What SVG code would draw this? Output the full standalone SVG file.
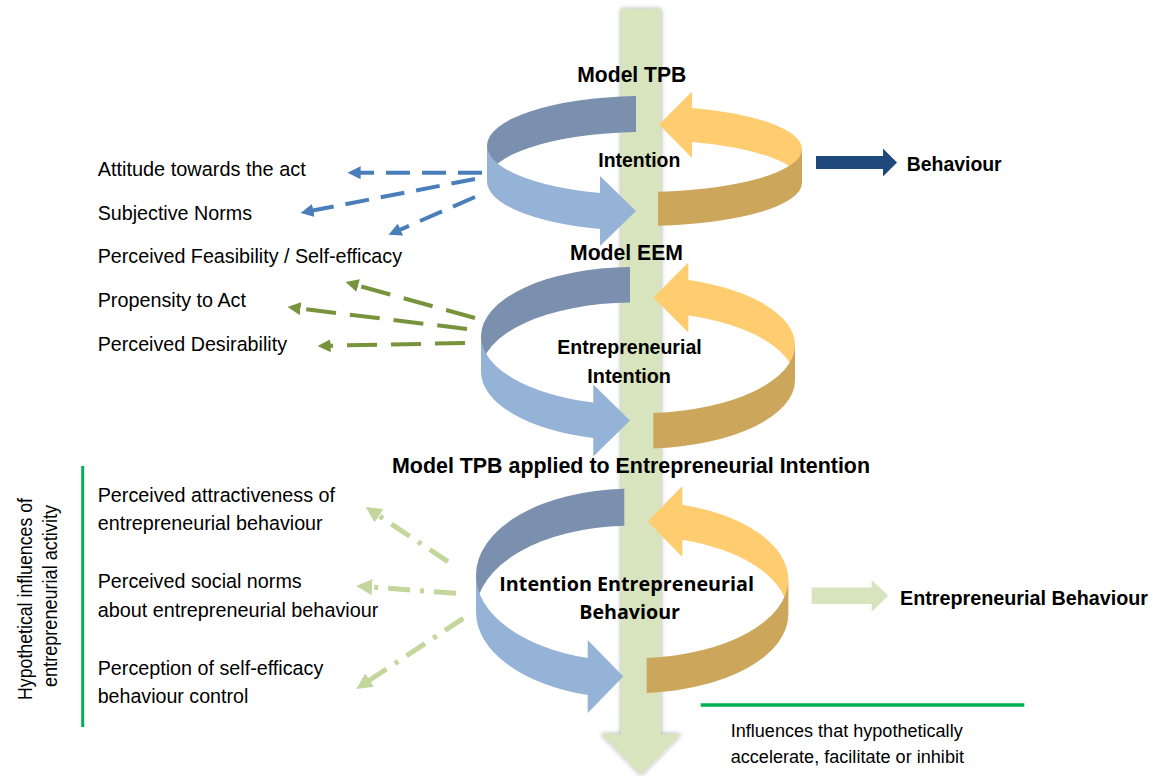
<svg xmlns="http://www.w3.org/2000/svg" width="1161" height="776" viewBox="0 0 1161 776">
<style>
.t{font-family:"Liberation Sans",Arial,sans-serif;fill:#000;}
.lt{font-size:20.5px;}
.b{font-weight:bold;}
.cal{font-family:"Open Sans","Liberation Sans",sans-serif;font-weight:bold;font-size:20px;fill:#000;}
.dk{fill:#7b8fae;}
.lb{fill:#95b3d7;}
.yl{fill:#ffcd6f;}
.gd{fill:#cca75b;}
.blue{stroke:#4a7ebb;stroke-width:4;fill:none;stroke-dasharray:24 12;}
.green{stroke:#77933c;stroke-width:4;fill:none;stroke-dasharray:30 14;}
.lgreen{stroke:#c3d69b;stroke-width:5;fill:none;stroke-dasharray:22 10 4 10;}
</style>
<defs>
<marker id="ahB" viewBox="0 0 10 10" refX="4" refY="5" markerWidth="13" markerHeight="13" markerUnits="userSpaceOnUse" orient="auto"><path d="M0,0 L10,5 L0,10 Z" fill="#4a7ebb"/></marker>
<marker id="ahG" viewBox="0 0 10 10" refX="4" refY="5" markerWidth="13" markerHeight="13" markerUnits="userSpaceOnUse" orient="auto"><path d="M0,0 L10,5 L0,10 Z" fill="#77933c"/></marker>
<marker id="ahL" viewBox="0 0 10 10" refX="4" refY="5" markerWidth="16" markerHeight="16" markerUnits="userSpaceOnUse" orient="auto"><path d="M0,0 L10,5 L0,10 Z" fill="#c3d69b"/></marker>
<filter id="sh" x="-30%" y="-5%" width="160%" height="110%"><feDropShadow dx="0" dy="0" stdDeviation="2.5" flood-color="#000" flood-opacity="0.35"/></filter>
</defs>

<g id="axis">
<path d="M621,9 H661 V734 H681 L641,775 L601,734 H621 Z" fill="#d7e4bd" filter="url(#sh)"/>
</g>

<g id="ring-tpb">
<path class="dk" d="M636,96.06 A157,49.5 0 0 0 487,145.5 L487,181.5 A157,49.5 0 0 1 636,132.06 Z"/>
<path class="lb" d="M487,145.5 A157,49.5 0 0 0 600,193 L600,176 L636,211 L600,246 L600,229 A157,49.5 0 0 1 487,181.5 Z"/>
<path class="yl" d="M692,108 A158,43 0 0 1 802,149 L802,183 A158,43 0 0 0 692,142 L692,158 L659,124.5 L692,91.5 Z"/>
<path class="gd" d="M658,191.8 A158,43 0 0 0 802,149 L802,183 A158,43 0 0 1 658,225.8 Z"/>
</g>

<g id="ring-eem">
<path class="dk" d="M630,267 A152,69 0 0 0 481,336 L481,371.5 A152,69 0 0 1 630,302.5 Z"/>
<path class="lb" d="M481,336 A152,69 0 0 0 593.3,402.6 L593.3,384.5 L630,420.5 L593.3,456.5 L593.3,438.1 A152,69 0 0 1 481,371.5 Z"/>
<path class="yl" d="M688.3,280.1 A155,68.3 0 0 1 795,345 L795,380.5 A155,68.3 0 0 0 688.3,315.6 L688.3,332.5 L653.3,297.5 L688.3,262.5 Z"/>
<path class="gd" d="M653.3,413.05 A155,68.3 0 0 0 795,345 L795,380.5 A155,68.3 0 0 1 653.3,448.55 Z"/>
</g>

<g id="ring-tpb-ei">
<path class="dk" d="M624.3,488.76 A154,86.3 0 0 0 476,575 L476,612 A154,86.3 0 0 1 624.3,525.76 Z"/>
<path class="lb" d="M476,575 A154,86.3 0 0 0 587.7,658 L587.7,640 L623.3,676.5 L587.7,713 L587.7,695 A154,86.3 0 0 1 476,612 Z"/>
<path class="yl" d="M682.3,504.64 A153.3,78.7 0 0 1 788.3,579.5 L788.3,614.5 A153.3,78.7 0 0 0 682.3,539.64 L682.3,557 L647.7,521.5 L682.3,486 Z"/>
<path class="gd" d="M646.7,657.97 A153.3,78.7 0 0 0 788.3,579.5 L788.3,614.5 A153.3,78.7 0 0 1 646.7,692.97 Z"/>
</g>

<g id="titles">
<text class="t b" x="577.3" y="81.7" font-size="22" textLength="109" lengthAdjust="spacingAndGlyphs">Model TPB</text>
<text class="t b" x="598.3" y="166.7" font-size="20" textLength="82" lengthAdjust="spacingAndGlyphs">Intention</text>
<text class="t b" x="570" y="260" font-size="22" textLength="113" lengthAdjust="spacingAndGlyphs">Model EEM</text>
<text class="t b" x="557.3" y="354.3" font-size="20" textLength="144.4" lengthAdjust="spacingAndGlyphs">Entrepreneurial</text>
<text class="t b" x="587.3" y="382.7" font-size="20" textLength="83.7" lengthAdjust="spacingAndGlyphs">Intention</text>
<text class="t b" x="392" y="473" font-size="22" textLength="478" lengthAdjust="spacingAndGlyphs">Model TPB applied to Entrepreneurial Intention</text>
<text class="cal" x="499.3" y="590.7" textLength="254.7" lengthAdjust="spacingAndGlyphs">Intention Entrepreneurial</text>
<text class="cal" x="579.3" y="619.3" textLength="100.7" lengthAdjust="spacingAndGlyphs">Behaviour</text>
</g>

<g id="behaviour">
<path d="M816,156 H883 V148.5 L897,162.5 L883,176.5 V169 H816 Z" fill="#1f497d"/>
<text class="t b" x="906.7" y="170.7" font-size="20" textLength="95" lengthAdjust="spacingAndGlyphs">Behaviour</text>
</g>

<g id="entrepreneurial-behaviour">
<path d="M811.7,587.5 H871.7 V580 L888.3,595.8 L871.7,611.7 V604 H811.7 Z" fill="#d7e4bd"/>
<text class="t b" x="900" y="605" font-size="19.6" textLength="248" lengthAdjust="spacingAndGlyphs">Entrepreneurial Behaviour</text>
</g>

<g id="influences-tpb">
<text class="t lt" x="97.7" y="176" textLength="208" lengthAdjust="spacingAndGlyphs">Attitude towards the act</text>
<text class="t lt" x="97.7" y="219.7" textLength="154.3" lengthAdjust="spacingAndGlyphs">Subjective Norms</text>
<text class="t lt" x="97.7" y="263.4" textLength="304.3" lengthAdjust="spacingAndGlyphs">Perceived Feasibility / Self-efficacy</text>
</g>

<g id="influences-eem">
<text class="t lt" x="97.7" y="307.1" textLength="148.3" lengthAdjust="spacingAndGlyphs">Propensity to Act</text>
<text class="t lt" x="97.7" y="350.8" textLength="189.3" lengthAdjust="spacingAndGlyphs">Perceived Desirability</text>
</g>

<g id="influences-ei">
<text class="t lt" x="97.7" y="501.7" textLength="237.3" lengthAdjust="spacingAndGlyphs">Perceived attractiveness of</text>
<text class="t lt" x="97.7" y="530" textLength="225" lengthAdjust="spacingAndGlyphs">entrepreneurial behaviour</text>
<text class="t lt" x="97.7" y="588.3" textLength="204" lengthAdjust="spacingAndGlyphs">Perceived social norms</text>
<text class="t lt" x="97.7" y="616.7" textLength="280.6" lengthAdjust="spacingAndGlyphs">about entrepreneurial behaviour</text>
<text class="t lt" x="97.7" y="675" textLength="225.6" lengthAdjust="spacingAndGlyphs">Perception of self-efficacy</text>
<text class="t lt" x="97.7" y="703.3" textLength="150.6" lengthAdjust="spacingAndGlyphs">behaviour control</text>
</g>

<g id="hypothetical-label">
<line x1="82.7" y1="466" x2="82.7" y2="727" stroke="#00b050" stroke-width="3"/>
<text class="t" font-size="20" text-anchor="middle" transform="translate(31.7,599) rotate(-90)" textLength="202" lengthAdjust="spacingAndGlyphs">Hypothetical influences of</text>
<text class="t" font-size="20" text-anchor="middle" transform="translate(56.7,596) rotate(-90)" textLength="182" lengthAdjust="spacingAndGlyphs">entrepreneurial activity</text>
</g>

<g id="accelerate-label">
<line x1="700.7" y1="705" x2="1024.3" y2="705" stroke="#00b050" stroke-width="3.5"/>
<text class="t" font-size="17.5" x="730.7" y="736.7" textLength="232" lengthAdjust="spacingAndGlyphs">Influences that hypothetically</text>
<text class="t" font-size="17.5" x="730.7" y="762.7" textLength="233.3" lengthAdjust="spacingAndGlyphs">accelerate, facilitate or inhibit</text>
</g>

<g id="connectors">
<line class="blue" x1="482" y1="172.7" x2="355.4" y2="172.7" marker-end="url(#ahB)"/>
<line class="blue" x1="475" y1="179" x2="308.2" y2="211.4" marker-end="url(#ahB)"/>
<line class="blue" x1="475" y1="197" x2="395.7" y2="231.6" marker-end="url(#ahB)"/>
<line class="green" x1="475" y1="318" x2="353.1" y2="284.2" marker-end="url(#ahG)"/>
<line class="green" x1="467" y1="329" x2="295.3" y2="308" marker-end="url(#ahG)"/>
<line class="green" x1="465" y1="343" x2="325.4" y2="345.8" marker-end="url(#ahG)"/>
<line class="lgreen" x1="448" y1="561.7" x2="373.7" y2="512.3" marker-end="url(#ahL)"/>
<line class="lgreen" x1="456" y1="593.3" x2="365.7" y2="586.6" marker-end="url(#ahL)"/>
<line class="lgreen" x1="463.3" y1="618.3" x2="364.3" y2="683.7" marker-end="url(#ahL)"/>
</g>
</svg>
